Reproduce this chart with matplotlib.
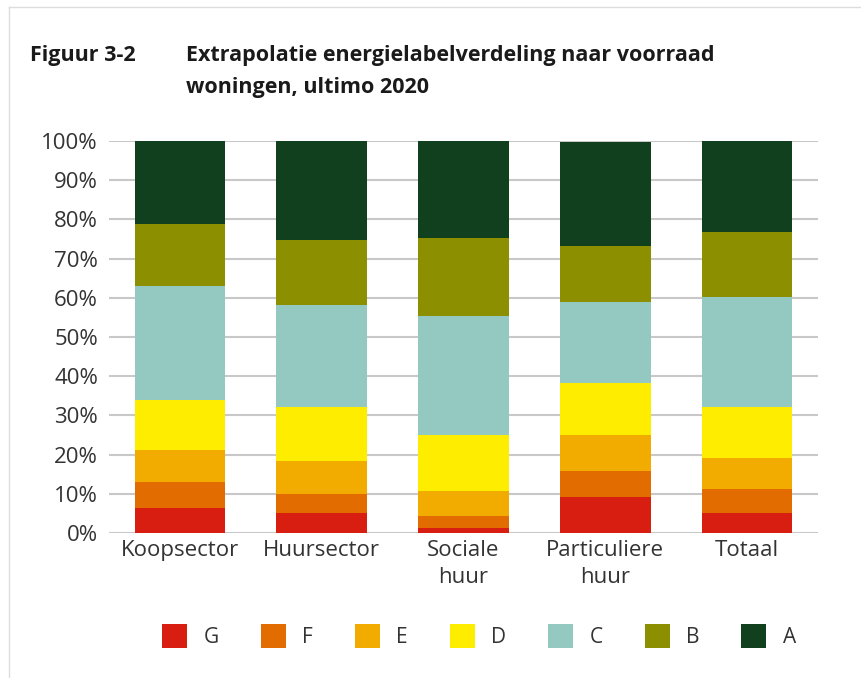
import matplotlib.pyplot as plt
import numpy as np
from matplotlib.lines import Line2D
from matplotlib.patches import Patch

# shares per energy label (percent)
categories = ["Koopsector", "Huursector", "Sociale\nhuur", "Particuliere\nhuur", "Totaal"]
labels = ["G", "F", "E", "D", "C", "B", "A"]

g = [6.3, 5.0, 1.4, 9.3, 5.0]
f = [6.6, 5.0, 2.9, 6.6, 6.2]
e = [8.3, 8.3, 6.5, 9.1, 7.9]
d = [12.8, 13.8, 14.2, 13.3, 13.0]
c = [29.1, 26.1, 30.3, 20.7, 28.1]
b = [15.8, 16.6, 19.9, 14.2, 16.6]
a = [21.1, 25.2, 24.8, 26.5, 23.2]

colors = ["#d81e10", "#e36c00", "#f2ac00", "#ffed00", "#93c9c0", "#8c8f00", "#10401e"]

plt.rcParams["font.family"] = ["Open Sans", "DejaVu Sans"]

fig = plt.figure(figsize=(8.62, 6.78), dpi=100)
ax = fig.add_axes([109 / 862, 1 - 533 / 678, (818 - 109) / 862, (533 - 141) / 678])

x = np.arange(len(categories))
bottom = np.zeros(len(categories))
for vals, col in zip([g, f, e, d, c, b, a], colors):
    ax.bar(x, vals, width=0.64, bottom=bottom, color=col, zorder=3)
    bottom += np.array(vals)

ax.set_xlim(-0.5, 4.5)
ax.set_ylim(0, 100)
ax.set_yticks(range(0, 101, 10))
ax.set_yticklabels([f"{v}%" for v in range(0, 101, 10)], fontsize=16, color="#333333")
ax.set_xticks(x)
ax.set_xticklabels(categories, fontsize=16, color="#333333", linespacing=1.4)
ax.tick_params(axis="y", length=0, pad=8)
ax.tick_params(axis="x", length=0, pad=5)
ax.grid(axis="y", color="#c8c8c8", linewidth=1.5, zorder=0)
for s in ax.spines.values():
    s.set_visible(False)

# title
tkw = dict(fontsize=15.5, fontweight="bold", color="#1a1a1a", va="center")
fig.text(30 / 862, 1 - 55 / 678, "Figuur 3-2", **tkw)
fig.text(186 / 862, 1 - 55 / 678, "Extrapolatie energielabelverdeling naar voorraad", **tkw)
fig.text(186 / 862, 1 - 88 / 678, "woningen, ultimo 2020", **tkw)

handles = [Patch(facecolor=col, edgecolor="none") for col in colors]
fig.legend(handles, labels, loc="center", bbox_to_anchor=(0.556, 1 - 636 / 678),
           ncol=7, frameon=False, fontsize=15, handlelength=1.2, handleheight=1.4,
           handletextpad=0.8, columnspacing=2.0, labelcolor="#333333")

# faint page frame at left and top
fig.add_artist(Line2D([9 / 862, 9 / 862], [0, 1 - 7 / 678], color="#dddddd", lw=1))
fig.add_artist(Line2D([9 / 862, 1], [1 - 7 / 678, 1 - 7 / 678], color="#dddddd", lw=1))

fig.savefig("out.png", dpi=100)
